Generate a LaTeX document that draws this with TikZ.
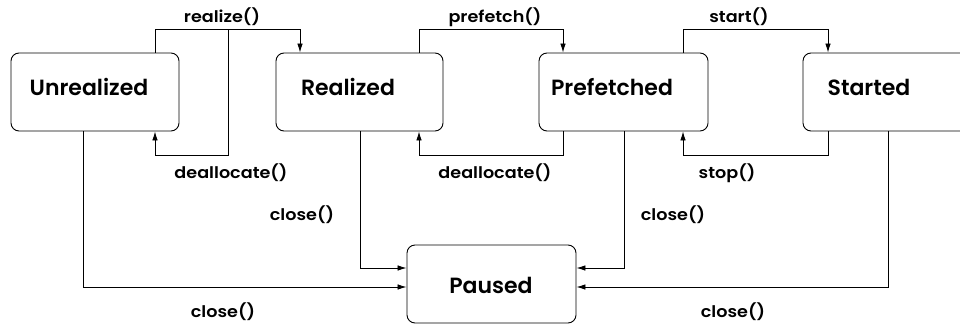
\documentclass[tikz,border=0pt]{standalone}
\usepackage{fontspec}
\setmainfont{Poppins}[BoldFont={Poppins SemiBold}]
\usetikzlibrary{arrows.meta}
\begin{document}
\begin{tikzpicture}[x=1pt,y=-1pt,
  state/.style={draw,line width=0.9pt,rounded corners=8pt,minimum height=78pt,inner sep=0pt},
  statetext/.style={font=\fontsize{22}{26}\selectfont\bfseries,inner sep=0pt},
  lbl/.style={font={\fontsize{16}{19}\selectfont\bfseries\addfontfeatures{FakeStretch=1.1}},inner sep=0pt},
  arr/.style={draw,line width=0.8pt,-{Latex[length=9pt,width=5.5pt]}}]
  \useasboundingbox (0,0) rectangle (960,324);

  % states
  \node[state,minimum width=168pt] (U) at (95,92) {};
  \node[state,minimum width=167pt] (R) at (359.5,92) {};
  \node[state,minimum width=169pt] (F) at (623.5,92) {};
  \node[state,minimum width=168pt] (S) at (887,92) {};
  \node[state,minimum width=169pt] (P) at (491.5,284) {};

  \node[statetext] (tU) at (89,87) {Unrealized};
  \node[statetext] (tR) at (348,87) {Realized};
  \node[statetext] (tF) at (612,87) {Prefetched};
  \node[statetext] (tS) at (869,87) {Started};
  \node[statetext] (tP) at (491,285) {Paused};

  % forward transitions along the upper lane
  \draw[arr] ([xshift=60pt]U.north) |- (300,29) -- ([xshift=-59.5pt]R.north);
  \draw[arr] ([xshift=59.5pt]R.north) |- (563,29) -- ([xshift=-60.5pt]F.north);
  \draw[arr] ([xshift=59.5pt]F.north) |- (828,29) -- ([xshift=-59pt]S.north);

  % backward transitions along the lower lane
  \coordinate (dU) at (228,29);
  \draw[arr] (dU) |- (155,155) -- ([xshift=60pt]U.south);
  \draw[arr] ([xshift=-60.5pt]F.south) |- (419,155) -- ([xshift=59.5pt]R.south);
  \draw[arr] ([xshift=-59pt]S.south) |- (683,155) -- ([xshift=59.5pt]F.south);

  % close() into Paused
  \draw[arr] ([xshift=-12pt]U.south) |- ([yshift=-3pt]P.west);
  \draw[arr] ([xshift=0.5pt]R.south) |- ([yshift=16pt]P.west);
  \draw[arr] ([xshift=0.5pt]F.south) |- ([yshift=16pt]P.east);
  \draw[arr] ([xshift=1pt]S.south) |- ([yshift=-3pt]P.east);

  % labels
  \node[lbl] (l1) at (222,17) {realize()};
  \node[lbl] (l2) at (495,17) {prefetch()};
  \node[lbl] (l3) at (739,17) {start()};
  \node[lbl] (l4) at (231,173) {deallocate()};
  \node[lbl] (l5) at (495,173) {deallocate()};
  \node[lbl] (l6) at (727,173) {stop()};
  \node[lbl] (l7) at (302,215) {close()};
  \node[lbl] (l8) at (673,215) {close()};
  \node[lbl] (l9) at (223,312) {close()};
  \node[lbl] (l10) at (733,312) {close()};
\end{tikzpicture}
\end{document}
